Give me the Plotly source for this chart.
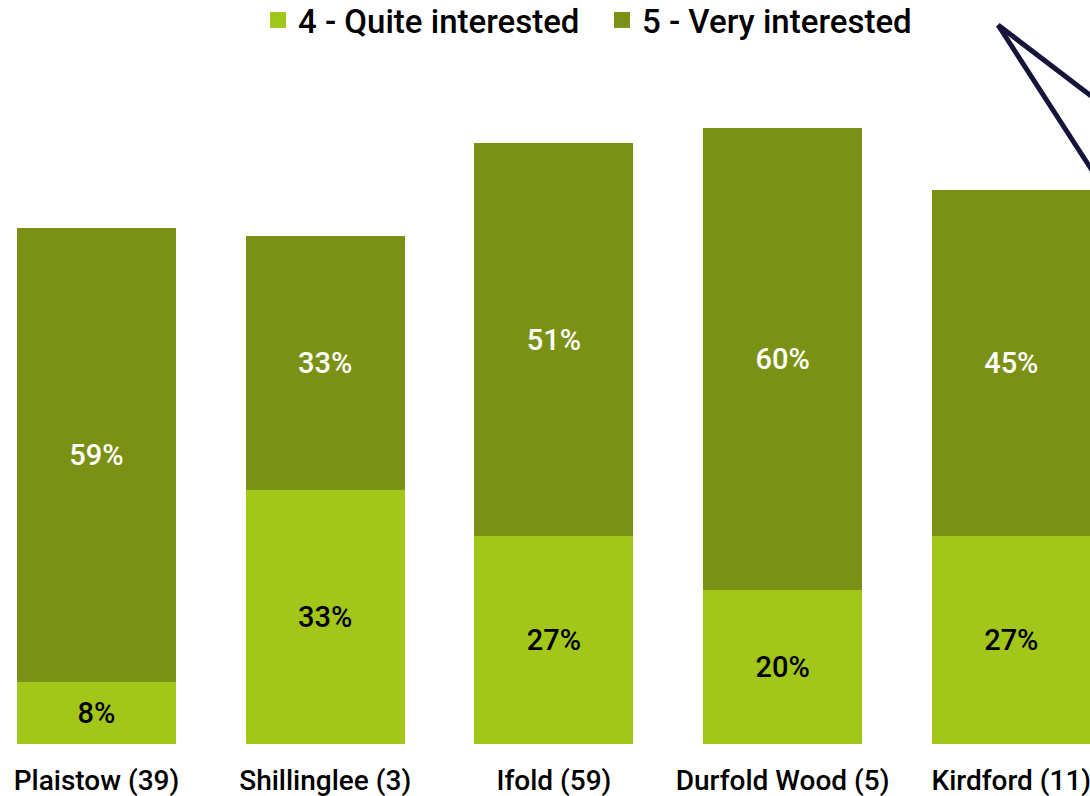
import plotly.graph_objects as go

categories = ["Plaistow (39)", "Shillinglee (3)", "Ifold (59)", "Durfold Wood (5)", "Kirdford (11)"]
quite_interested = [8, 33, 27, 20, 27]
very_interested = [59, 33, 51, 60, 45]
series_names = ["4 - Quite interested", "5 - Very interested"]

LIGHT = "#A3C61B"
DARK = "#7A9115"
FONT = "Roboto"

W, H = 1090, 796
BASE = 744                # baseline in pixels
PX_PER_PCT = 7.7
SPACING = 228.7
C0 = 96.5                 # centre of first bar in pixels

fig = go.Figure()
fig.add_trace(go.Bar(
    x=categories, y=quite_interested, name=series_names[0], showlegend=False,
    marker=dict(color=LIGHT, line=dict(width=0)),
    text=[f"{v}%" for v in quite_interested], textposition="inside",
    insidetextanchor="middle",
    textfont=dict(color="black", size=29, family=FONT, weight=500),
    width=0.695,
))
fig.add_trace(go.Bar(
    x=categories, y=very_interested, name=series_names[1], showlegend=False,
    marker=dict(color=DARK, line=dict(width=0)),
    text=[f"{v}%" for v in very_interested], textposition="inside",
    insidetextanchor="middle",
    textfont=dict(color="white", size=29, family=FONT, weight=500),
    width=0.695,
))
# legend entries with larger square swatches
for name, col in zip(series_names, [LIGHT, DARK]):
    fig.add_trace(go.Scatter(
        x=[None], y=[None], mode="markers", name=name,
        marker=dict(symbol="square", size=18, color=col),
    ))

def px(v):
    return v / W
def py(v):
    return (BASE - v) / BASE

arrow_color = "#15143A"
fig.add_shape(type="line", xref="paper", yref="paper",
              x0=px(998), y0=py(25), x1=px(1095), y1=py(99),
              line=dict(color=arrow_color, width=5))
fig.add_shape(type="line", xref="paper", yref="paper",
              x0=px(998), y0=py(25), x1=px(1095), y1=py(175),
              line=dict(color=arrow_color, width=5))

fig.update_layout(
    barmode="stack",
    width=W, height=H,
    margin=dict(l=0, r=0, t=0, b=H - BASE, autoexpand=False),
    paper_bgcolor="white", plot_bgcolor="white",
    showlegend=True,
    legend=dict(orientation="h", x=px(258), xanchor="left", y=py(-8), yanchor="top",
                font=dict(family=FONT, size=33, color="black", weight=500),
                traceorder="normal", bgcolor="rgba(0,0,0,0)", itemsizing="trace",
                entrywidth=299, entrywidthmode="pixels"),
    xaxis=dict(range=[-C0 / SPACING, (W - C0) / SPACING], showgrid=False, showline=False,
               zeroline=False, ticks="",
               tickfont=dict(family=FONT, size=28, color="black", weight=500),
               ticklabelstandoff=17, fixedrange=True),
    yaxis=dict(range=[0, BASE / PX_PER_PCT], visible=False, showgrid=False, zeroline=False,
               fixedrange=True),
)

fig.write_html("out.html", config={"displayModeBar": False},
               post_script="document.body.style.margin='0';document.body.style.overflow='hidden';")
